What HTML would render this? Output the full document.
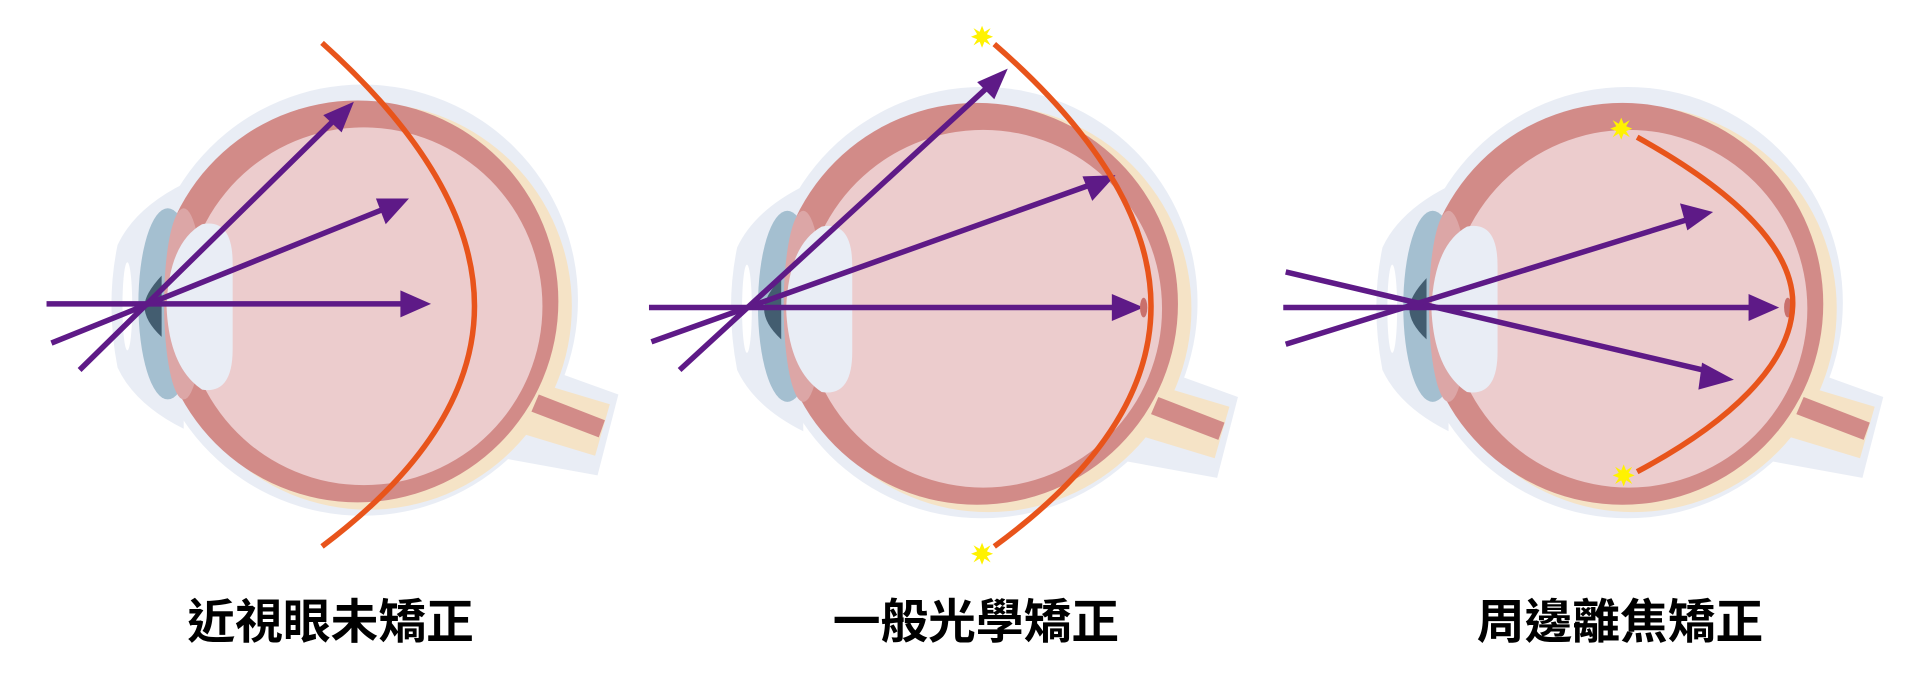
<!DOCTYPE html>
<html><head><meta charset="utf-8"><style>
html,body{margin:0;padding:0;background:#fff;width:1920px;height:691px;overflow:hidden}
svg{display:block}
text{font-family:"Liberation Sans","Noto Sans CJK TC","Noto Sans CJK SC",sans-serif;font-weight:bold;fill:#000}
</style></head><body>
<svg width="1920" height="691" viewBox="0 0 1568 564" preserveAspectRatio="none">
<defs>
<g id="eye">
  <circle cx="296" cy="245" r="176" fill="#e9edf5"/>
  <polygon points="430,295 505,322 488,388 400,372" fill="#e9edf5"/>
  <path d="M150,150 Q110,170 96,200 Q86,248 96,300 Q110,330 150,350 Z" fill="#e9edf5"/>
  <ellipse cx="104" cy="250" rx="4" ry="36" fill="#fff"/>
  <circle cx="301" cy="250" r="166" fill="#f5e3c6"/>
  <polygon points="438,312 498,330 486,372 420,352" fill="#f5e3c6"/>
  <circle cx="292" cy="246" r="164" fill="#d28b88"/>
  <path d="M440,322 L494,343 L489,357 L434,336 Z" fill="#d28b88"/>
  <circle cx="297" cy="250" r="146" fill="#eccccd"/>
  <ellipse cx="137" cy="248" rx="24" ry="78" fill="#a4bfd0"/>
  <ellipse cx="150" cy="248" rx="16" ry="78" fill="#dca6a6"/>
  <path d="M165,183 Q190,178 190,215 L190,285 Q190,322 165,318 Q138,300 136,250 Q138,198 165,183 Z" fill="#e9edf5"/>
  <path d="M132,225 Q118,240 118,250 Q118,262 132,275 Z" fill="#435d70"/>
</g>
<g id="star">
  <polygon points="0,-9 2,-4 7,-7 4,-2 9,0 4,2 7,7 2,4 0,9 -2,4 -7,7 -4,2 -9,0 -4,-2 -7,-7 -2,-4" fill="#fff200"/>
  <circle r="4.5" fill="#fff200"/>
</g>
</defs>

<use href="#eye" x="0" y="0"/>
<use href="#eye" x="506" y="2"/>
<use href="#eye" x="1033" y="2"/>

<g stroke="#5e1a87" stroke-width="4.5" fill="none">
  <line x1="38" y1="248" x2="330" y2="248"/>
  <line x1="65" y1="302" x2="278" y2="93"/>
  <line x1="42" y1="280" x2="320" y2="168"/>
  <line x1="530" y1="251" x2="910" y2="251"/>
  <line x1="555" y1="302" x2="810" y2="68"/>
  <line x1="532" y1="279" x2="893" y2="150"/>
  <line x1="1048" y1="251" x2="1430" y2="251"/>
  <line x1="1050" y1="222" x2="1395" y2="303"/>
  <line x1="1050" y1="281" x2="1382" y2="178"/>
</g>
<g fill="#5e1a87">
  <polygon points="352,248 327,237 327,259"/>
  <polygon points="289,83 264,94 279,108"/>
  <polygon points="334,162 307,162 315,183"/>
  <polygon points="934,251 908,240 908,262"/>
  <polygon points="823,56 798,67 812,81"/>
  <polygon points="911,143 884,144 892,164"/>
  <polygon points="1453,251 1428,240 1428,262"/>
  <polygon points="1399,173 1372,166 1378,188"/>
  <polygon points="1416,310 1390,296 1387,318"/>
</g>
<ellipse cx="934" cy="251" rx="3" ry="8" fill="#c9706c"/>
<ellipse cx="1460" cy="251" rx="3" ry="8" fill="#c9706c"/>

<g stroke="#e8541b" stroke-width="4.5" fill="none">
  <path d="M263,35 Q512,259 263,446"/>
  <path d="M812,36 Q1068,259 812,446"/>
  <path d="M1337,112 C1420,158 1466,205 1464,250 C1462,298 1412,345 1337,385"/>
</g>
<use href="#star" x="802" y="30"/>
<use href="#star" x="802" y="452"/>
<use href="#star" x="1324" y="105"/>
<use href="#star" x="1326" y="388"/>

<text x="270" y="521" font-size="39" text-anchor="middle">近視眼未矯正</text>
<text x="797" y="521" font-size="39" text-anchor="middle">一般光學矯正</text>
<text x="1323" y="521" font-size="39" text-anchor="middle">周邊離焦矯正</text>
</svg>
</body></html>
